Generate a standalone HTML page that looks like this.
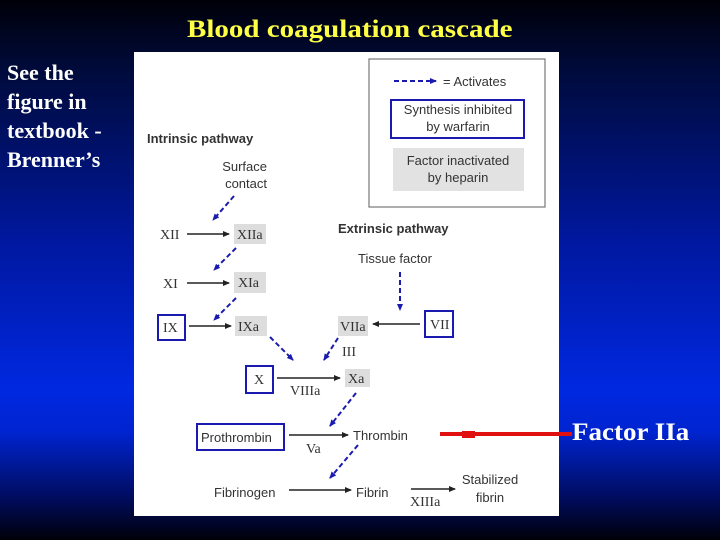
<!DOCTYPE html>
<html><head><meta charset="utf-8"><style>
html,body{margin:0;padding:0;}
body{width:720px;height:540px;overflow:hidden;position:relative;
background:linear-gradient(to bottom,#000008 0%,#000a38 12%,#0018a0 45%,#0028e0 72%,#0024d0 80%,#000c60 92%,#000008 100%);}
.t{position:absolute;font-family:"Liberation Serif",serif;font-weight:bold;white-space:nowrap;}
</style></head><body>
<div class="t" style="left:187px;top:16px;color:#ffff44;font-size:25px;transform:scaleX(1.16);transform-origin:left top;">Blood coagulation cascade</div>
<div class="t" style="left:7px;top:58px;color:#fff;font-size:22px;line-height:29px;">See the<br>figure in<br>textbook -<br>Brenner’s</div>
<svg width="720" height="540" style="position:absolute;left:0;top:0" font-family="Liberation Sans, sans-serif">
<defs>
<marker id="b" markerWidth="8" markerHeight="8" refX="6" refY="3" orient="auto" markerUnits="userSpaceOnUse"><path d="M0,0L7,3L0,6z" fill="#1a1ab0"/></marker>
<marker id="k" markerWidth="8" markerHeight="8" refX="6" refY="3" orient="auto" markerUnits="userSpaceOnUse"><path d="M0,0L7,3L0,6z" fill="#222"/></marker>
</defs>
<rect x="134" y="52" width="425" height="464" fill="#fff"/>
<rect x="369" y="59" width="176" height="148" fill="none" stroke="#777" stroke-width="1.2"/>
<line x1="394" y1="81" x2="436" y2="81" stroke="#1a1ab0" stroke-width="2" stroke-dasharray="5,3" marker-end="url(#b)"/>
<text x="443" y="86" font-size="13" fill="#333">= Activates</text>
<rect x="391" y="100" width="133" height="38" fill="none" stroke="#1a1ab0" stroke-width="2"/>
<text x="458" y="114" font-size="13" fill="#333" text-anchor="middle">Synthesis inhibited</text>
<text x="458" y="131" font-size="13" fill="#333" text-anchor="middle">by warfarin</text>
<rect x="393" y="148" width="131" height="43" fill="#e2e2e2"/>
<text x="458" y="165" font-size="13" fill="#333" text-anchor="middle">Factor inactivated</text>
<text x="458" y="182" font-size="13" fill="#333" text-anchor="middle">by heparin</text>
<text x="147" y="143" font-size="13" font-weight="bold" fill="#333">Intrinsic pathway</text>
<text x="267" y="171" font-size="13" fill="#333" text-anchor="end">Surface</text>
<text x="267" y="188" font-size="13" fill="#333" text-anchor="end">contact</text>
<text x="338" y="233" font-size="13" font-weight="bold" fill="#333">Extrinsic pathway</text>
<text x="358" y="263" font-size="13" fill="#333">Tissue factor</text>
<g stroke="#1a1ab0" stroke-width="2" stroke-dasharray="5,3" fill="none">
<line x1="234" y1="196" x2="213" y2="220" marker-end="url(#b)"/>
<line x1="236" y1="248" x2="214" y2="270" marker-end="url(#b)"/>
<line x1="236" y1="298" x2="214" y2="320" marker-end="url(#b)"/>
<line x1="400" y1="272" x2="400" y2="310" marker-end="url(#b)"/>
<line x1="270" y1="337" x2="293" y2="360" marker-end="url(#b)"/>
<line x1="338" y1="338" x2="324" y2="360" marker-end="url(#b)"/>
<line x1="356" y1="393" x2="330" y2="426" marker-end="url(#b)"/>
<line x1="358" y1="445" x2="330" y2="478" marker-end="url(#b)"/>
</g>
<g font-family="Liberation Serif, serif" font-size="14" fill="#333">
<rect x="234" y="224" width="32" height="20" fill="#ddd"/><text x="237" y="239">XIIa</text>
<rect x="234" y="272" width="32" height="21" fill="#ddd"/><text x="238" y="287">XIa</text>
<rect x="235" y="316" width="32" height="20" fill="#ddd"/><text x="238" y="331">IXa</text>
<rect x="338" y="316" width="30" height="20" fill="#ddd"/><text x="340" y="331">VIIa</text>
<rect x="345" y="369" width="25" height="18" fill="#ddd"/><text x="348" y="383">Xa</text>
<text x="160" y="239">XII</text>
<text x="163" y="288">XI</text>
<rect x="158" y="315" width="27" height="25" fill="none" stroke="#1a1ab0" stroke-width="2"/><text x="163" y="332">IX</text>
<rect x="425" y="311" width="28" height="26" fill="none" stroke="#1a1ab0" stroke-width="2"/><text x="430" y="329">VII</text>
<text x="342" y="356">III</text>
<rect x="246" y="366" width="27" height="27" fill="none" stroke="#1a1ab0" stroke-width="2"/><text x="254" y="384">X</text>
<text x="290" y="395">VIIIa</text>
<text x="306" y="453">Va</text>
<text x="410" y="506">XIIIa</text>
</g>
<g stroke="#222" stroke-width="1.5">
<line x1="187" y1="234" x2="229" y2="234" marker-end="url(#k)"/>
<line x1="187" y1="283" x2="229" y2="283" marker-end="url(#k)"/>
<line x1="189" y1="326" x2="231" y2="326" marker-end="url(#k)"/>
<line x1="420" y1="324" x2="373" y2="324" marker-end="url(#k)"/>
<line x1="277" y1="378" x2="340" y2="378" marker-end="url(#k)"/>
<line x1="289" y1="435" x2="348" y2="435" marker-end="url(#k)"/>
<line x1="289" y1="490" x2="351" y2="490" marker-end="url(#k)"/>
<line x1="411" y1="489" x2="455" y2="489" marker-end="url(#k)"/>
</g>
<rect x="197" y="424" width="87" height="26" fill="none" stroke="#1a1ab0" stroke-width="2"/>
<text x="201" y="442" font-size="13" fill="#333">Prothrombin</text>
<text x="353" y="440" font-size="13" fill="#333">Thrombin</text>
<text x="214" y="497" font-size="13" fill="#333">Fibrinogen</text>
<text x="356" y="497" font-size="13" fill="#333">Fibrin</text>
<text x="490" y="484" font-size="13" fill="#333" text-anchor="middle">Stabilized</text>
<text x="490" y="502" font-size="13" fill="#333" text-anchor="middle">fibrin</text>
<line x1="440" y1="434" x2="572" y2="434" stroke="#e01010" stroke-width="4"/>
<rect x="462" y="431" width="13" height="7" fill="#e01010"/>
</svg>
<div class="t" style="left:572px;top:419px;color:#fff;font-size:25px;transform:scaleX(1.08);transform-origin:left top;">Factor IIa</div>
</body></html>
